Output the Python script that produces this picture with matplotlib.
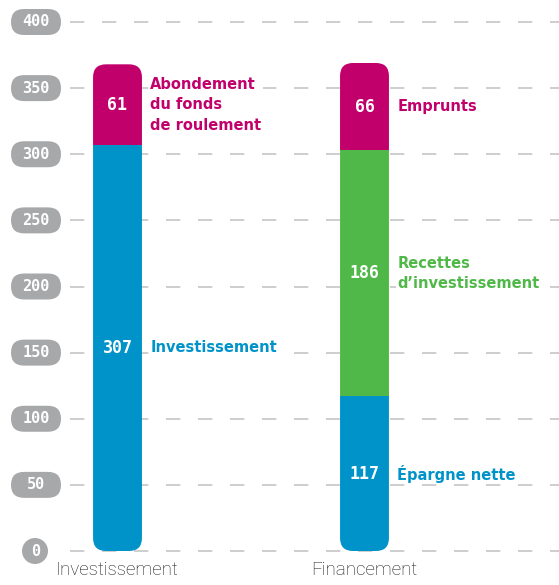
import matplotlib.pyplot as plt
from matplotlib import font_manager
from matplotlib.patches import FancyBboxPatch, Circle

# data
categories = ["Investissement", "Financement"]
inv_values = [307, 61]
inv_names = ["Investissement", "Abondement\ndu fonds\nde roulement"]
fin_values = [117, 186, 66]
fin_names = ["Épargne nette", "Recettes\nd’investissement", "Emprunts"]
y_ticks = [0, 50, 100, 150, 200, 250, 300, 350, 400]

BLUE = "#0093C9"
MAGENTA = "#C2006B"
GREEN = "#50B848"
PILL = "#A7A8AA"
GRID = "#C6C6C6"

inv_colors = [BLUE, MAGENTA]
fin_colors = [BLUE, GREEN, MAGENTA]

installed = {f.name for f in font_manager.fontManager.ttflist}
thin_font = next((f for f in ["Liberation Sans Narrow", "Roboto", "Open Sans"] if f in installed), "DejaVu Sans")

W, H = 559, 585
fig = plt.figure(figsize=(W / 100, H / 100), dpi=100)
ax = fig.add_axes([70 / W, (H - 551) / H, (W - 70) / W, (551 - 22) / H])

bar_w = 0.198
ax.set_xlim((70 - 117.5) / 247, (W - 117.5) / 247)
ax.set_ylim(0, 400)
ax.set_yticks(y_ticks)
ax.yaxis.grid(True, color=GRID, linestyle=(0, (8.6, 10.6)), linewidth=1.2)
for gl in ax.get_ygridlines():
    gl.set_clip_on(False)
ax.set_axisbelow(True)
for s in ax.spines.values():
    s.set_visible(False)
ax.tick_params(length=0, labelleft=False, pad=7)
ax.set_xticks([0, 1])
ax.set_xticklabels(categories, fontsize=13.5, family=thin_font, fontweight="light", color="#1a1a1a")

# pixel scale of data units, used to keep the rounded corners circular
bb = ax.get_window_extent()
xpx = bb.width / (ax.get_xlim()[1] - ax.get_xlim()[0])
ypx = bb.height / 400
radius = 13 / xpx

for x, (values, names, colors) in enumerate([(inv_values, inv_names, inv_colors),
                                             (fin_values, fin_names, fin_colors)]):
    total = sum(values)
    clip = FancyBboxPatch((x - bar_w / 2, 0), bar_w, total,
                          boxstyle=f"round,pad=0,rounding_size={radius}",
                          mutation_aspect=xpx / ypx, transform=ax.transData,
                          facecolor="none", edgecolor="none")
    bottom = 0
    for v, name, c in zip(values, names, colors):
        bars = ax.bar(x, v, bar_w, bottom=bottom, color=c, zorder=2)
        for b in bars:
            b.set_clip_path(clip)
        mid = bottom + v / 2
        ax.text(x, mid, str(v), ha="center", va="center", color="white",
                fontsize=12, family="DejaVu Sans Mono", fontweight="bold", zorder=3)
        ax.annotate(name, (x + bar_w / 2, mid), xytext=(6, 0), textcoords="offset points",
                    ha="left", va="center", color=c, fontsize=10.5, fontweight="bold",
                    linespacing=1.45, zorder=3,
                    bbox=dict(boxstyle="square,pad=0.1", facecolor="white", edgecolor="none"))
        bottom += v

# grey pill-shaped tick labels on the left
ov = fig.add_axes([0, 0, 1, 1])
ov.set_xlim(0, W)
ov.set_ylim(0, H)
ov.axis("off")
for t in y_ticks:
    yp = ax.transData.transform((0, t))[1]
    if t == 0:
        ov.add_patch(Circle((35, yp), 13, facecolor=PILL, edgecolor="none"))
    else:
        ov.add_patch(FancyBboxPatch((11, yp - 13), 50, 26, boxstyle="round,pad=0,rounding_size=13",
                                    facecolor=PILL, edgecolor="none"))
    ov.text(35.5 if t == 0 else 36, yp, str(t), ha="center", va="center", color="white",
            fontsize=11, family="DejaVu Sans Mono", fontweight="bold")

fig.savefig("out.png", dpi=100)
